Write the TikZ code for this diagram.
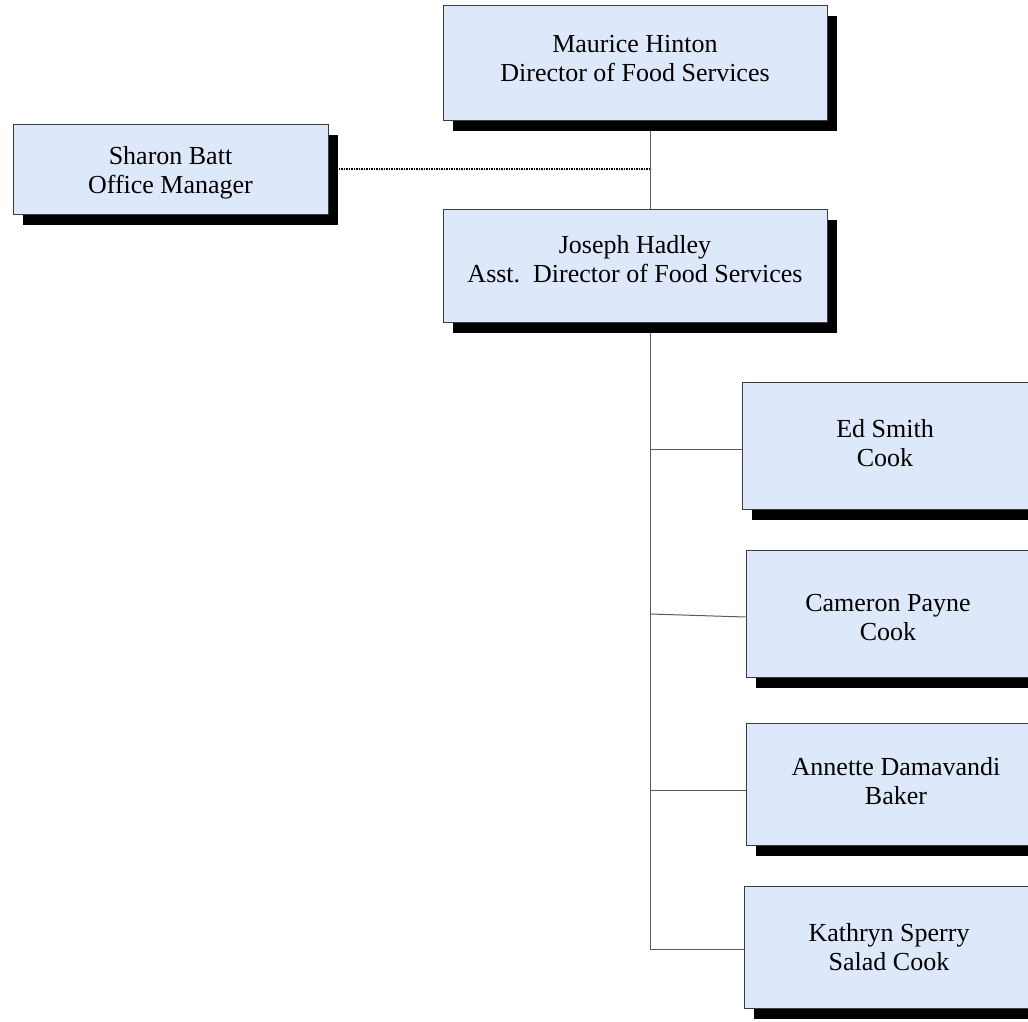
\documentclass[tikz,border=0pt]{standalone}
\usepackage{fontspec}
\setmainfont{Liberation Serif}
\usetikzlibrary{shadows,backgrounds}
\definecolor{boxfill}{RGB}{221,232,250}
\definecolor{boxline}{RGB}{60,60,60}
\definecolor{connline}{RGB}{90,90,90}
\tikzset{
  orgbox/.style={draw=boxline, line width=1pt, fill=boxfill, inner sep=0pt,
    align=center, font=\fontsize{26}{29}\selectfont, text depth=0pt,
    drop shadow={shadow xshift=10pt, shadow yshift=-11pt, fill=black, opacity=1}},
  conn/.style={draw=connline, line width=1pt},
  dotconn/.style={draw=black, line width=1.5pt, dash pattern=on 1.5pt off 1pt}
}
\begin{document}
\begin{tikzpicture}[x=1pt,y=-1pt]
\useasboundingbox (0,0) rectangle (1028,1021);
\begin{scope}
\clip (0,0) rectangle (1028,1021);
\node[orgbox, minimum width=384pt, minimum height=115pt, text height=37pt] (maurice) at (635,62.5) {Maurice Hinton\\Director of Food Services};
\node[orgbox, minimum width=315pt, minimum height=90pt, text height=48pt] (sharon) at (170.5,169) {Sharon Batt\\Office Manager};
\node[orgbox, minimum width=384pt, minimum height=113pt, text height=33pt] (joseph) at (635,265.5) {Joseph Hadley\\Asst.\ \ Director of Food Services};
\node[orgbox, minimum width=286pt, minimum height=127pt, text height=41pt] (ed) at (885,445.5) {Ed Smith\\Cook};
\node[orgbox, minimum width=284pt, minimum height=127pt, text height=53pt] (cameron) at (888,613.5) {Cameron Payne\\Cook};
\node[orgbox, minimum width=300pt, minimum height=122pt, text height=40pt] (annette) at (896,784) {Annette Damavandi\\Baker};
\node[orgbox, minimum width=290pt, minimum height=122pt, text height=46pt] (kathryn) at (889,947) {Kathryn Sperry\\Salad Cook};
\end{scope}
\begin{scope}[on background layer]
\coordinate (mtop) at ([xshift=15pt]maurice.south);
\coordinate (jtop) at ([xshift=15pt]joseph.north);
\coordinate (jbot) at ([xshift=15pt]joseph.south);
\coordinate (sj) at (mtop |- sharon.east);
\coordinate (ew) at ([yshift=-3.5pt]ed.west);
\coordinate (cw) at ([yshift=-3.5pt]cameron.west);
\coordinate (aw) at ([yshift=-6pt]annette.west);
\coordinate (kw) at ([yshift=-2pt]kathryn.west);
\coordinate (kj) at (mtop |- kw);
\draw[conn] (mtop) -- (jtop);
\draw[conn] (jbot) -- (kj);
\draw[dotconn] (sharon.east) -- (sj);
\draw[conn] (mtop |- ew) -- (ew);
\draw[conn] ([yshift=-0.5pt]mtop |- cameron.west) -- (cw);
\draw[conn] (mtop |- aw) -- (aw);
\draw[conn] (kj) -- (kw);
\end{scope}
\end{tikzpicture}
\end{document}
